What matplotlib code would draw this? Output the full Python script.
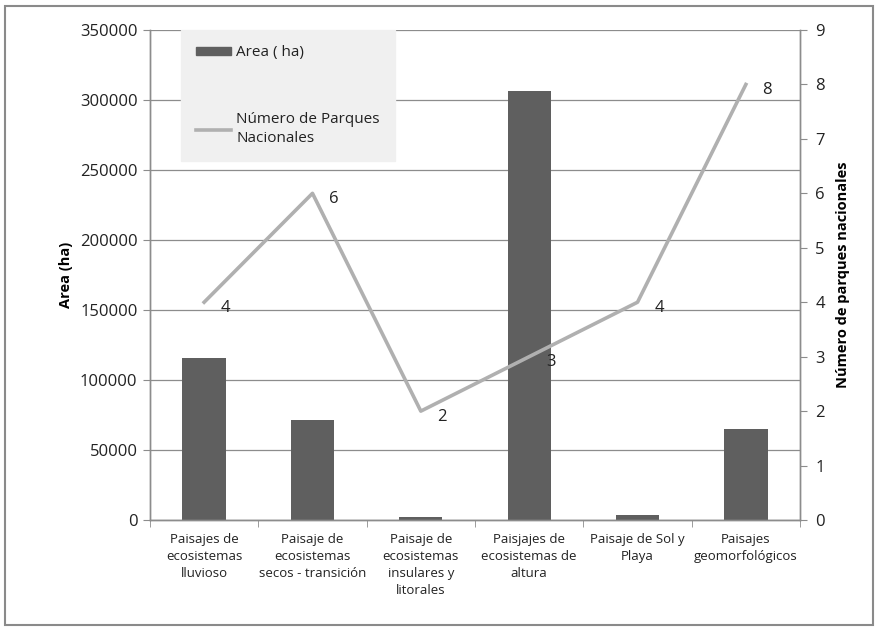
import matplotlib
matplotlib.use('Agg')
import matplotlib.pyplot as plt
import matplotlib.patches as mpatches
import matplotlib.lines as mlines
import numpy as np

categorias = ['Paisajes de\necosistemas\nlluvioso',
              'Paisaje de\necosistemas\nsecos - transición',
              'Paisaje de\necosistemas\ninsulares y\nlitorales',
              'Paisjajes de\necosistemas de\naltura',
              'Paisaje de Sol y\nPlaya',
              'Paisajes\ngeomorfológicos']
area_ha = [115500, 71500, 2500, 306500, 3500, 65000]
num_parques = [4, 6, 2, 3, 4, 8]

plt.rcParams['font.family'] = ['Open Sans', 'DejaVu Sans']
txt = '#222222'
grid_c = '#8c8c8c'

fig = plt.figure(figsize=(8.78, 6.33), dpi=100)
fig.patches.append(mpatches.Rectangle((0.006, 0.012), 0.988, 0.978, transform=fig.transFigure,
                                      fill=False, edgecolor='#8a8a8a', linewidth=1.5))
ax = fig.add_axes([0.1708, 0.1785, 0.7404, 0.7741])
ax2 = ax.twinx()

x = np.arange(len(categorias))
ax.bar(x, area_ha, width=0.4, color='#5f5f5f', zorder=2)
ax.set_ylim(0, 350000)
ax.set_xlim(-0.5, len(categorias) - 0.5)
ax.set_yticks(np.arange(0, 350001, 50000))
ax.yaxis.grid(True, color=grid_c, linewidth=0.9, zorder=0)
ax.set_axisbelow(True)

ax2.plot(x, num_parques, color='#b0b0b0', linewidth=2.6, zorder=3)
ax2.set_ylim(0, 9)
ax2.set_yticks(range(0, 10))
for xi, v in zip(x, num_parques):
    ax2.annotate(str(v), (xi, v), xytext=(12, -4), textcoords='offset points',
                 fontsize=12, color=txt, va='center', ha='left')

ax.set_xticks(x)
ax.set_xticklabels(categorias, fontsize=9.5, color=txt, linespacing=1.4)
ax.set_xticks(np.arange(-0.5, len(categorias), 1), minor=True)
ax.tick_params(axis='x', which='major', length=0, pad=9)
ax.tick_params(axis='x', which='minor', length=5, color=grid_c, direction='out')
ax.tick_params(axis='y', labelsize=12, labelcolor=txt, length=5, color=grid_c, pad=4)
ax2.tick_params(axis='y', labelsize=12, labelcolor=txt, length=5, color=grid_c, pad=6)

for a in (ax, ax2):
    a.spines['top'].set_visible(False)
    for s in ('left', 'right', 'bottom'):
        a.spines[s].set_color(grid_c)
        a.spines[s].set_linewidth(1.0)

ax.set_ylabel('Area (ha)', fontsize=10.5, fontweight='bold', color='black', labelpad=5)
ax2.set_ylabel('Número de parques nacionales', fontsize=10.5, fontweight='bold', color='black', labelpad=8)

h_bar = mpatches.Patch(color='#5f5f5f')
h_line = mlines.Line2D([], [], color='#b0b0b0', linewidth=2.6)
leg = ax2.legend([h_bar, h_line], ['Area ( ha)', 'Número de Parques\nNacionales'],
                 loc='upper left', bbox_to_anchor=(0.047, 1.0), frameon=True,
                 fancybox=False, fontsize=11, labelspacing=3.4, borderpad=1.0,
                 handlelength=2.3, handleheight=0.45, handletextpad=0.35,
                 borderaxespad=0)
leg.get_frame().set_facecolor('#f0f0f0')
leg.get_frame().set_edgecolor('#f0f0f0')
leg.get_frame().set_alpha(1)
for t in leg.get_texts():
    t.set_color(txt)
    t.set_linespacing(1.3)

fig.savefig('out.png', dpi=100)
